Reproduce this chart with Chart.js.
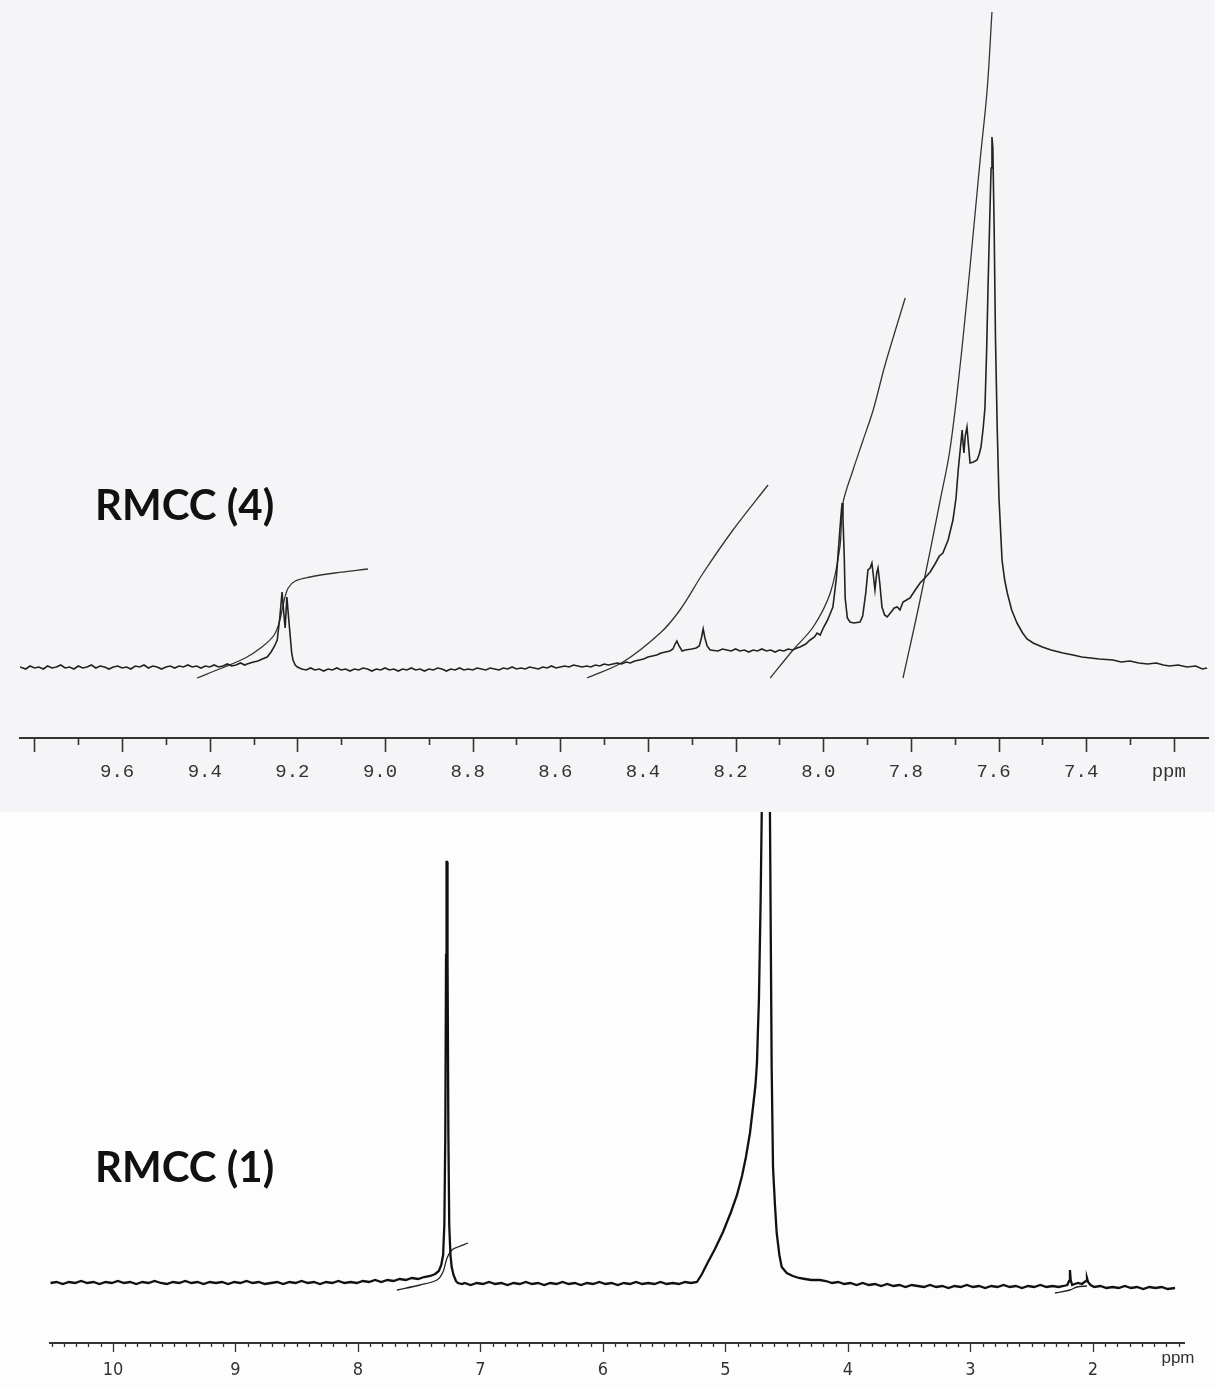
<!DOCTYPE html>
<html>
<head>
<meta charset="utf-8">
<script src="https://cdn.jsdelivr.net/npm/chart.js@4.4.1/dist/chart.umd.min.js"></script>
<style>
  body { margin: 0; background: #fff; width: 1215px; height: 1388px; position: relative; overflow: hidden; }
  .panel { position: absolute; left: 0; width: 1215px; }
  #topWrap { top: 0; height: 812px; background: #f5f5f7; }
  #botWrap { top: 812px; height: 576px; background: #fdfdfd; }
  .tag { position: absolute; left: 95px; font: 700 42px Lato, sans-serif; color: #111; line-height: 42px; white-space: nowrap; }
</style>
</head>
<body>
<div id="topWrap" class="panel"><canvas id="topChart" width="1215" height="812"></canvas></div>
<div id="botWrap" class="panel"><canvas id="botChart" width="1215" height="576"></canvas></div>
<div class="tag" style="top:483px">RMCC (4)</div>
<div class="tag" style="top:1145px">RMCC (1)</div>
<script>
// spectra: [ppm, intensity above baseline]
const topTickLabels = ['9.6', '9.4', '9.2', '9.0', '8.8', '8.6', '8.4', '8.2', '8.0', '7.8', '7.6', '7.4'];
const botTickLabels = ['10', '9', '8', '7', '6', '5', '4', '3', '2'];

const topSpectrum = [
  [9.833,1],[9.82,-1],[9.81,2],[9.80,0],[9.79,1],[9.78,-1],[9.77,2],[9.76,0],[9.75,1],[9.74,3],[9.73,0],[9.72,1],
  [9.71,-1],[9.70,2],[9.69,0],[9.68,1],[9.67,3],[9.66,0],[9.65,2],[9.64,1],[9.63,-1],[9.62,1],[9.61,2],[9.60,0],
  [9.59,1],[9.58,-1],[9.57,2],[9.56,1],[9.55,3],[9.54,0],[9.53,2],[9.52,1],[9.51,-1],[9.50,1],[9.49,2],[9.48,0],
  [9.47,2],[9.46,1],[9.45,3],[9.44,1],[9.43,2],[9.42,0],[9.41,2],[9.40,1],[9.39,3],[9.38,1],[9.37,2],[9.36,4],
  [9.35,2],[9.34,3],[9.33,5],[9.32,3],[9.315,4],[9.30,6],[9.29,7],[9.28,9],[9.269,11],[9.26,16],[9.252,22],
  [9.246,28],[9.240,51],[9.235,76],[9.231,55],[9.228,40],[9.224,71],[9.220,50],[9.217,35],[9.213,15],[9.210,8],
  [9.205,3],[9.20,1],[9.19,-1],[9.18,-2],[9.17,0],[9.16,-2],[9.15,-1],[9.14,-3],[9.13,-1],[9.12,-2],[9.11,0],
  [9.10,-2],[9.09,-1],[9.08,-3],[9.07,-1],[9.06,-2],[9.05,0],[9.04,-1],[9.03,-3],[9.02,-1],[9.01,-2],[9.00,0],
  [8.99,-2],[8.98,-1],[8.97,-3],[8.96,-1],[8.95,-2],[8.94,0],[8.93,-2],[8.92,-1],[8.91,-3],[8.90,-1],[8.89,-2],
  [8.88,0],[8.87,-1],[8.86,-3],[8.85,-1],[8.84,-2],[8.83,0],[8.82,-2],[8.81,-1],[8.80,-2],[8.79,0],[8.78,-1],
  [8.77,-2],[8.76,0],[8.75,-1],[8.74,-2],[8.73,0],[8.72,-1],[8.71,1],[8.70,-1],[8.69,0],[8.68,-1],[8.67,1],
  [8.66,0],[8.65,-1],[8.64,1],[8.63,0],[8.62,2],[8.61,0],[8.60,1],[8.59,2],[8.58,1],[8.57,3],[8.56,2],[8.55,1],
  [8.54,2],[8.53,1],[8.52,3],[8.51,2],[8.50,4],[8.49,3],[8.48,4],[8.47,5],[8.46,4],[8.45,6],[8.44,5],[8.43,7],
  [8.42,8],[8.41,9],[8.40,11],[8.39,12],[8.38,13],[8.37,15],[8.36,16],[8.35,17],[8.343,19],[8.338,24],[8.334,27],
  [8.329,22],[8.322,17],[8.315,18],[8.30,19],[8.29,20],[8.283,22],[8.278,30],[8.274,39],[8.270,30],[8.265,22],
  [8.258,18],[8.24,17],[8.23,19],[8.22,18],[8.21,17],[8.20,19],[8.19,17],[8.18,18],[8.17,16],[8.16,18],[8.15,17],
  [8.14,19],[8.13,17],[8.12,18],[8.11,16],[8.10,18],[8.09,17],[8.08,19],[8.07,18],[8.06,20],[8.053,21],[8.04,24],
  [8.03,28],[8.02,31],[8.014,35],[8.007,33],[8.000,40],[7.99,48],[7.978,61],[7.970,90],[7.966,115],[7.960,150],
  [7.957,165],[7.955,150],[7.952,110],[7.950,70],[7.945,50],[7.939,46],[7.93,45],[7.916,46],[7.91,52],[7.903,75],
  [7.898,98],[7.893,100],[7.889,105],[7.885,90],[7.882,78],[7.878,95],[7.875,100],[7.871,85],[7.866,61],[7.860,53],
  [7.854,51],[7.845,56],[7.838,60],[7.831,61],[7.825,58],[7.818,66],[7.81,68],[7.802,70],[7.79,78],[7.779,85],
  [7.768,90],[7.756,96],[7.745,104],[7.735,112],[7.727,115],[7.715,128],[7.704,148],[7.697,170],[7.692,198],
  [7.687,220],[7.683,238],[7.681,225],[7.679,215],[7.676,232],[7.672,241],[7.669,225],[7.665,205],[7.657,206],
  [7.649,208],[7.644,214],[7.640,221],[7.635,240],[7.631,260],[7.627,320],[7.624,380],[7.620,450],[7.617,500],
  [7.615,531],[7.613,520],[7.610,440],[7.607,330],[7.603,240],[7.599,170],[7.592,108],[7.586,88],[7.580,75],
  [7.570,58],[7.558,45],[7.545,35],[7.535,29],[7.521,25],[7.50,21],[7.48,18],[7.453,15],[7.43,13],[7.41,11],
  [7.39,10],[7.37,9],[7.339,8],[7.32,6],[7.30,7],[7.28,5],[7.26,4],[7.24,5],[7.224,3],[7.21,2],[7.19,3],[7.17,1],
  [7.15,2],[7.135,-1],[7.124,0]
];
const topIntegralA = [[9.429,-10],[9.372,0],[9.319,10],[9.281,21],[9.253,33],[9.240,48],[9.230,68],[9.221,80],[9.205,87],[9.171,91],[9.114,95],[9.039,99]];
const topIntegralB = [[8.539,-10],[8.457,6],[8.372,35],[8.327,58],[8.274,95],[8.206,138],[8.126,183]];
const topIntegralC = [[8.121,-10],[8.069,18],[8.023,41],[7.984,75],[7.962,121],[7.955,165],[7.932,198],[7.909,228],[7.886,258],[7.859,303],[7.813,370]];
const topIntegralD = [[7.818,-10],[7.779,68],[7.733,168],[7.711,218],[7.688,301],[7.665,401],[7.642,508],[7.626,578],[7.615,656]];

const botSpectrum = [
  [10.51,2],[10.46,3],[10.41,1],[10.36,3],[10.31,2],[10.26,4],[10.21,2],[10.16,3],[10.11,1],[10.06,3],[10.01,2],
  [9.96,4],[9.91,2],[9.86,3],[9.81,1],[9.76,3],[9.71,2],[9.66,4],[9.61,2],[9.56,1],[9.51,3],[9.46,2],[9.41,4],
  [9.36,2],[9.31,3],[9.26,1],[9.21,3],[9.16,2],[9.11,3],[9.06,1],[9.01,3],[8.96,2],[8.91,4],[8.86,2],[8.81,3],
  [8.76,1],[8.71,2],[8.66,3],[8.61,1],[8.56,3],[8.51,2],[8.46,4],[8.41,2],[8.36,3],[8.31,1],[8.26,3],[8.21,2],
  [8.16,4],[8.11,2],[8.06,3],[8.01,2],[7.96,4],[7.91,3],[7.86,5],[7.81,3],[7.76,5],[7.71,4],[7.66,6],[7.61,5],
  [7.56,7],[7.51,6],[7.46,8],[7.41,9],[7.37,11],[7.34,14],[7.32,20],[7.305,30],[7.295,60],[7.287,150],[7.281,330],
  [7.277,423],[7.273,423],[7.269,330],[7.262,150],[7.255,60],[7.245,30],[7.235,18],[7.22,10],[7.20,4],[7.184,2],
  [7.15,1],[7.13,2],[7.08,0],[7.03,2],[6.98,1],[6.93,3],[6.88,1],[6.83,2],[6.78,0],[6.73,2],[6.68,1],[6.63,3],
  [6.58,1],[6.53,2],[6.48,0],[6.43,2],[6.38,1],[6.33,3],[6.28,1],[6.23,2],[6.18,0],[6.13,2],[6.08,1],[6.03,3],
  [5.98,1],[5.93,2],[5.88,0],[5.83,2],[5.78,1],[5.73,3],[5.68,1],[5.63,2],[5.58,1],[5.53,3],[5.48,1],[5.43,2],
  [5.38,1],[5.33,3],[5.28,2],[5.233,3],[5.192,11],[5.151,21],[5.086,36],[5.020,53],[4.955,73],[4.906,90],
  [4.865,109],[4.833,128],[4.800,152],[4.776,177],[4.755,200],[4.743,222],[4.735,255],[4.727,285],[4.713,385],
  [4.704,472],[4.690,560],[4.667,620],[4.645,560],[4.637,472],[4.623,218],[4.612,118],[4.596,80],[4.582,52],
  [4.56,30],[4.541,18],[4.50,12],[4.45,9],[4.40,7],[4.35,6],[4.30,5],[4.23,5],[4.18,4],[4.13,2],
  [4.08,3],[4.03,1],[3.98,2],[3.93,0],[3.88,2],[3.83,0],[3.78,1],[3.73,-1],[3.68,1],[3.63,-1],[3.58,0],[3.53,-2],
  [3.48,0],[3.43,-1],[3.38,-2],[3.33,0],[3.28,-2],[3.23,-1],[3.18,-3],[3.13,-1],[3.08,-2],[3.03,0],[2.98,-2],
  [2.93,-1],[2.88,-3],[2.83,-1],[2.78,-2],[2.73,0],[2.68,-2],[2.63,-1],[2.58,-3],[2.53,-1],[2.48,-2],[2.43,0],
  [2.38,-2],[2.33,-1],[2.28,-2],[2.24,-1],[2.21,0],[2.195,4],[2.188,15],[2.182,5],[2.17,0],[2.15,1],[2.12,2],
  [2.09,1],[2.07,3],[2.055,4],[2.049,7],[2.04,3],[2.02,0],[1.99,-2],[1.94,-1],[1.89,-3],[1.84,-2],[1.79,-3],
  [1.74,-1],[1.69,-3],[1.64,-2],[1.59,-4],[1.54,-2],[1.49,-3],[1.44,-2],[1.39,-4],[1.33,-3]
];
const botIntegralA = [[7.682,-5],[7.494,0],[7.355,5],[7.306,13],[7.273,27],[7.233,35],[7.184,38],[7.102,42]];
const botIntegralB = [[2.310,-8],[2.188,-5],[2.131,-2],[2.049,-1]];

const toXY = pairs => pairs.map(([x, y]) => ({ x, y }));

// tick marks of the spectrometer axis (long on labelled ticks, short in between)
const nmrAxis = {
  id: 'nmrAxis',
  afterDraw(chart, args, opts) {
    const s = chart.scales.x, ctx = chart.ctx;
    ctx.save();
    ctx.strokeStyle = opts.color;
    ctx.lineWidth = opts.width;
    s.ticks.forEach(t => {
      const px = Math.round(s.getPixelForValue(t.value)) + 0.5;
      const major = Math.round(t.value * 10) % opts.every === 0;
      ctx.beginPath();
      ctx.moveTo(px, s.top);
      ctx.lineTo(px, s.top + (major ? opts.major : opts.minor));
      ctx.stroke();
    });
    if (opts.unit) {
      ctx.fillStyle = opts.color;
      ctx.font = opts.unitFont;
      ctx.textAlign = 'center';
      ctx.textBaseline = 'middle';
      ctx.fillText(opts.unit, s.right + opts.unitDx, s.top + opts.unitDy);
    }
    ctx.restore();
  }
};

function line(pairs, color, width, tension) {
  return { data: toXY(pairs), borderColor: color, borderWidth: width, pointRadius: 0, tension, fill: false };
}

function makeChart(id, cfg) {
  return new Chart(document.getElementById(id), {
    type: 'line',
    data: { datasets: cfg.datasets },
    plugins: [nmrAxis],
    options: {
      responsive: false,
      animation: false,
      devicePixelRatio: 1,
      layout: { padding: cfg.padding },
      plugins: { legend: { display: false }, tooltip: { enabled: false }, nmrAxis: cfg.axis },
      scales: {
        x: {
          type: 'linear',
          reverse: true,
          min: cfg.min,
          max: cfg.max,
          border: { display: true, color: cfg.axis.color, width: 2 },
          grid: { display: true, drawOnChartArea: false, drawTicks: true, tickLength: cfg.axis.major, tickColor: 'rgba(0,0,0,0)' },
          ticks: {
            stepSize: 0.1,
            includeBounds: false,
            autoSkip: false,
            maxRotation: 0,
            minRotation: 0,
            padding: cfg.tickPad,
            labelOffset: cfg.labelOffset,
            color: cfg.axis.color,
            font: cfg.font,
            callback: cfg.label
          },
          afterFit(s) { s.height = cfg.axisHeight; s.paddingLeft = 0; s.paddingRight = 0; }
        },
        y: { display: false, min: cfg.ymin, max: cfg.ymax }
      }
    }
  });
}

makeChart('topChart', {
  datasets: [
    line(topSpectrum, '#222', 1.6, 0),
    line(topIntegralA, '#333', 1.3, 0.35),
    line(topIntegralB, '#333', 1.3, 0.35),
    line(topIntegralC, '#333', 1.3, 0.3),
    line(topIntegralD, '#333', 1.3, 0.35)
  ],
  padding: { left: 20, right: 7, top: 0, bottom: 0 },
  min: 7.122, max: 9.833, ymin: -70, ymax: 668,
  axisHeight: 74, tickPad: 9, labelOffset: -5,
  font: { family: '"Liberation Mono", "DejaVu Sans Mono", monospace', size: 19 },
  label: v => {
    const s = v.toFixed(1);
    if (topTickLabels.includes(s)) return s;
    return s === '7.2' ? 'ppm' : '';
  },
  axis: { color: '#333', width: 1.6, major: 14, minor: 7, every: 2 }
});

makeChart('botChart', {
  datasets: [
    line(botSpectrum, '#111', 2.3, 0),
    line(botIntegralA, '#222', 1.3, 0.35),
    line(botIntegralB, '#222', 1.3, 0.35)
  ],
  padding: { left: 50, right: 31, top: 0, bottom: 0 },
  min: 1.257, max: 10.514, ymin: -58, ymax: 473,
  axisHeight: 45, tickPad: 8, labelOffset: 0,
  font: { family: '"Liberation Sans Narrow", "DejaVu Sans Condensed", sans-serif', size: 18 },
  label: v => {
    const s = String(Math.round(v * 10) / 10);
    return botTickLabels.includes(s) ? s : '';
  },
  axis: { color: '#333', width: 1.3, major: 9, minor: 4, every: 10,
          unit: 'ppm', unitFont: '17px "Liberation Sans Narrow", sans-serif', unitDx: -6, unitDy: 15 }
});
</script>
</body>
</html>
